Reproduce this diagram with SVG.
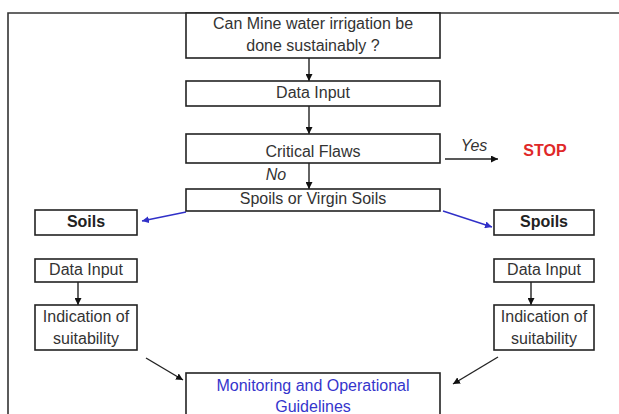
<svg xmlns="http://www.w3.org/2000/svg" width="619" height="414" viewBox="0 0 619 414">
<defs>
<marker id="ah" viewBox="0 0 10 10" refX="10" refY="5" markerWidth="7" markerHeight="7" orient="auto" markerUnits="userSpaceOnUse"><path d="M0,0 L10,5 L0,10 z" fill="#111"/></marker>
<marker id="ahb" viewBox="0 0 10 10" refX="10" refY="5" markerWidth="7" markerHeight="7" orient="auto" markerUnits="userSpaceOnUse"><path d="M0,0 L10,5 L0,10 z" fill="#3030c8"/></marker>
<style>
.box{fill:#fff;stroke:#222;stroke-width:1.6}
.t{font-family:"Liberation Sans",Arial,sans-serif;font-size:16px;fill:#333;text-anchor:middle}
.b{font-weight:bold;fill:#222}
.i{font-style:italic}
.blue{fill:#3535cc}
.red{fill:#e02828;font-weight:bold}
.c{stroke:#222;stroke-width:1.4;fill:none;marker-end:url(#ah)}
.cb{stroke:#3030c8;stroke-width:1.4;fill:none;marker-end:url(#ahb)}
</style>
</defs>
<rect width="619" height="414" fill="#fff"/>
<g id="frame"><path d="M8,414 V13 H619" fill="none" stroke="#333" stroke-width="1.6"/></g>
<g id="connectors">
<line class="c" x1="309" y1="58" x2="309" y2="81"/>
<line class="c" x1="309" y1="106" x2="309" y2="134"/>
<line class="c" x1="309" y1="163" x2="309" y2="189"/>
<line class="c" x1="445" y1="159" x2="498" y2="159"/>
<line class="cb" x1="186" y1="212" x2="142" y2="221"/>
<line class="cb" x1="443" y1="211" x2="492" y2="227"/>
<line class="c" x1="78" y1="282" x2="78" y2="305"/>
<line class="c" x1="531" y1="282" x2="531" y2="305"/>
<line class="c" x1="146" y1="358" x2="183" y2="380"/>
<line class="c" x1="498" y1="357" x2="453" y2="384"/>
</g>
<g id="n-question"><rect class="box" x="186" y="13" width="254" height="45"/><text class="t" x="313" y="29">Can Mine water irrigation be</text><text class="t" x="313" y="51">done sustainably ?</text></g>
<g id="n-datainput"><rect class="box" x="186" y="81" width="254" height="25"/><text class="t" x="313" y="98">Data Input</text></g>
<g id="n-critical"><rect class="box" x="186" y="134" width="254" height="29"/><text class="t" x="313" y="157">Critical Flaws</text></g>
<g id="l-yes"><text class="t i" x="474" y="151">Yes</text></g>
<g id="n-stop"><text class="t red" x="545" y="156">STOP</text></g>
<g id="l-no"><text class="t i" x="276" y="180">No</text></g>
<g id="n-spoilsvirgin"><rect class="box" x="186" y="189" width="254" height="22"/><text class="t" x="313" y="204">Spoils or Virgin Soils</text></g>
<g id="n-soils"><rect class="box" x="35" y="210" width="102" height="25"/><text class="t b" x="86" y="227">Soils</text></g>
<g id="n-spoils"><rect class="box" x="494" y="210" width="100" height="25"/><text class="t b" x="544" y="227">Spoils</text></g>
<g id="n-datainput-l"><rect class="box" x="35" y="259" width="102" height="23"/><text class="t" x="86" y="275">Data Input</text></g>
<g id="n-datainput-r"><rect class="box" x="494" y="259" width="100" height="23"/><text class="t" x="544" y="275">Data Input</text></g>
<g id="n-indication-l"><rect class="box" x="35" y="305" width="102" height="45"/><text class="t" x="86" y="322">Indication of</text><text class="t" x="86" y="344">suitability</text></g>
<g id="n-indication-r"><rect class="box" x="494" y="305" width="100" height="45"/><text class="t" x="544" y="322">Indication of</text><text class="t" x="544" y="344">suitability</text></g>
<g id="n-monitoring"><rect class="box" x="186" y="373" width="254" height="50"/><text class="t blue" x="313" y="391">Monitoring and Operational</text><text class="t blue" x="313" y="412">Guidelines</text></g>
</svg>
